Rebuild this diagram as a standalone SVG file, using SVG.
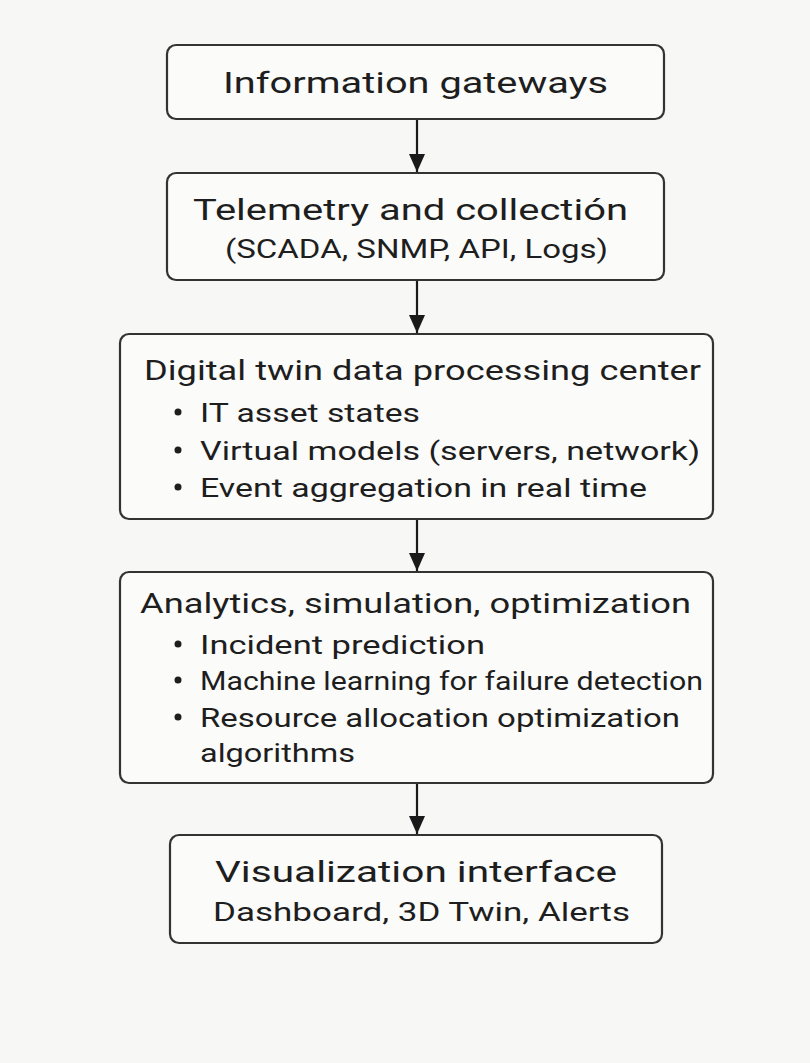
<svg xmlns="http://www.w3.org/2000/svg" width="810" height="1063" viewBox="0 0 810 1063">
  <defs>
    <marker id="arrow" viewBox="0 0 18 16" refX="18" refY="8" markerWidth="18" markerHeight="16" markerUnits="userSpaceOnUse" orient="auto">
      <path d="M0,0 L18,8 L0,16 Z" fill="#1a1a1a"/>
    </marker>
    <style>
      .box { fill: #fbfbfa; stroke: #333; stroke-width: 2.2; }
      .t { font-family: Roboto, "Open Sans", sans-serif; fill: #1e1e1e; }
      .h1 { font-size: 30px; }
      .h2 { font-size: 27px; }
      .sub { font-size: 25px; }
      .li { font-size: 26px; }
      .dot { fill: #1e1e1e; }
      .conn { stroke: #1a1a1a; stroke-width: 2.2; fill: none; marker-end: url(#arrow); }
    </style>
  </defs>

  <rect width="810" height="1063" fill="#f7f7f5"/>

  <!-- connectors -->
  <g id="connectors">
    <line class="conn" x1="417" y1="120" x2="417" y2="172"/>
    <line class="conn" x1="417" y1="281" x2="417" y2="333"/>
    <line class="conn" x1="417" y1="520" x2="417" y2="571"/>
    <line class="conn" x1="417" y1="784" x2="417" y2="834"/>
  </g>

  <g id="gateways">
    <rect class="box" x="167" y="45" width="497" height="74" rx="9"/>
    <text class="t h1" x="223" y="93" textLength="385" lengthAdjust="spacingAndGlyphs">Information gateways</text>
  </g>

  <g id="telemetry">
    <rect class="box" x="167" y="173" width="497" height="107" rx="9"/>
    <text class="t h1" x="193" y="220" textLength="435" lengthAdjust="spacingAndGlyphs">Telemetry and collectión</text>
    <text class="t sub" x="225" y="258" textLength="383" lengthAdjust="spacingAndGlyphs">(SCADA, SNMP, API, Logs)</text>
  </g>

  <g id="processing">
    <rect class="box" x="120" y="334" width="593" height="185" rx="9"/>
    <text class="t h2" x="144" y="380" textLength="557" lengthAdjust="spacingAndGlyphs">Digital twin data processing center</text>
    <circle class="dot" cx="178" cy="412" r="3.5"/>
    <text class="t li" x="200" y="422" textLength="220" lengthAdjust="spacingAndGlyphs">IT asset states</text>
    <circle class="dot" cx="178" cy="450" r="3.5"/>
    <text class="t li" x="200" y="460" textLength="500" lengthAdjust="spacingAndGlyphs">Virtual models (servers, network)</text>
    <circle class="dot" cx="178" cy="487" r="3.5"/>
    <text class="t li" x="200" y="497" textLength="447" lengthAdjust="spacingAndGlyphs">Event aggregation in real time</text>
  </g>

  <g id="analytics">
    <rect class="box" x="120" y="572" width="593" height="211" rx="9"/>
    <text class="t h2" x="140" y="613" textLength="551" lengthAdjust="spacingAndGlyphs">Analytics, simulation, optimization</text>
    <circle class="dot" cx="178" cy="644" r="3.5"/>
    <text class="t li" x="200" y="654" textLength="285" lengthAdjust="spacingAndGlyphs">Incident prediction</text>
    <circle class="dot" cx="178" cy="680" r="3.5"/>
    <text class="t li" x="200" y="690" textLength="503" lengthAdjust="spacingAndGlyphs">Machine learning for failure detection</text>
    <circle class="dot" cx="178" cy="717" r="3.5"/>
    <text class="t li" x="200" y="727" textLength="480" lengthAdjust="spacingAndGlyphs">Resource allocation optimization</text>
    <text class="t li" x="200" y="762" textLength="155" lengthAdjust="spacingAndGlyphs">algorithms</text>
  </g>

  <g id="visualization">
    <rect class="box" x="170" y="835" width="492" height="108" rx="9"/>
    <text class="t h1" x="215" y="882" textLength="402" lengthAdjust="spacingAndGlyphs">Visualization interface</text>
    <text class="t sub" x="213" y="921" textLength="417" lengthAdjust="spacingAndGlyphs">Dashboard, 3D Twin, Alerts</text>
  </g>
</svg>
